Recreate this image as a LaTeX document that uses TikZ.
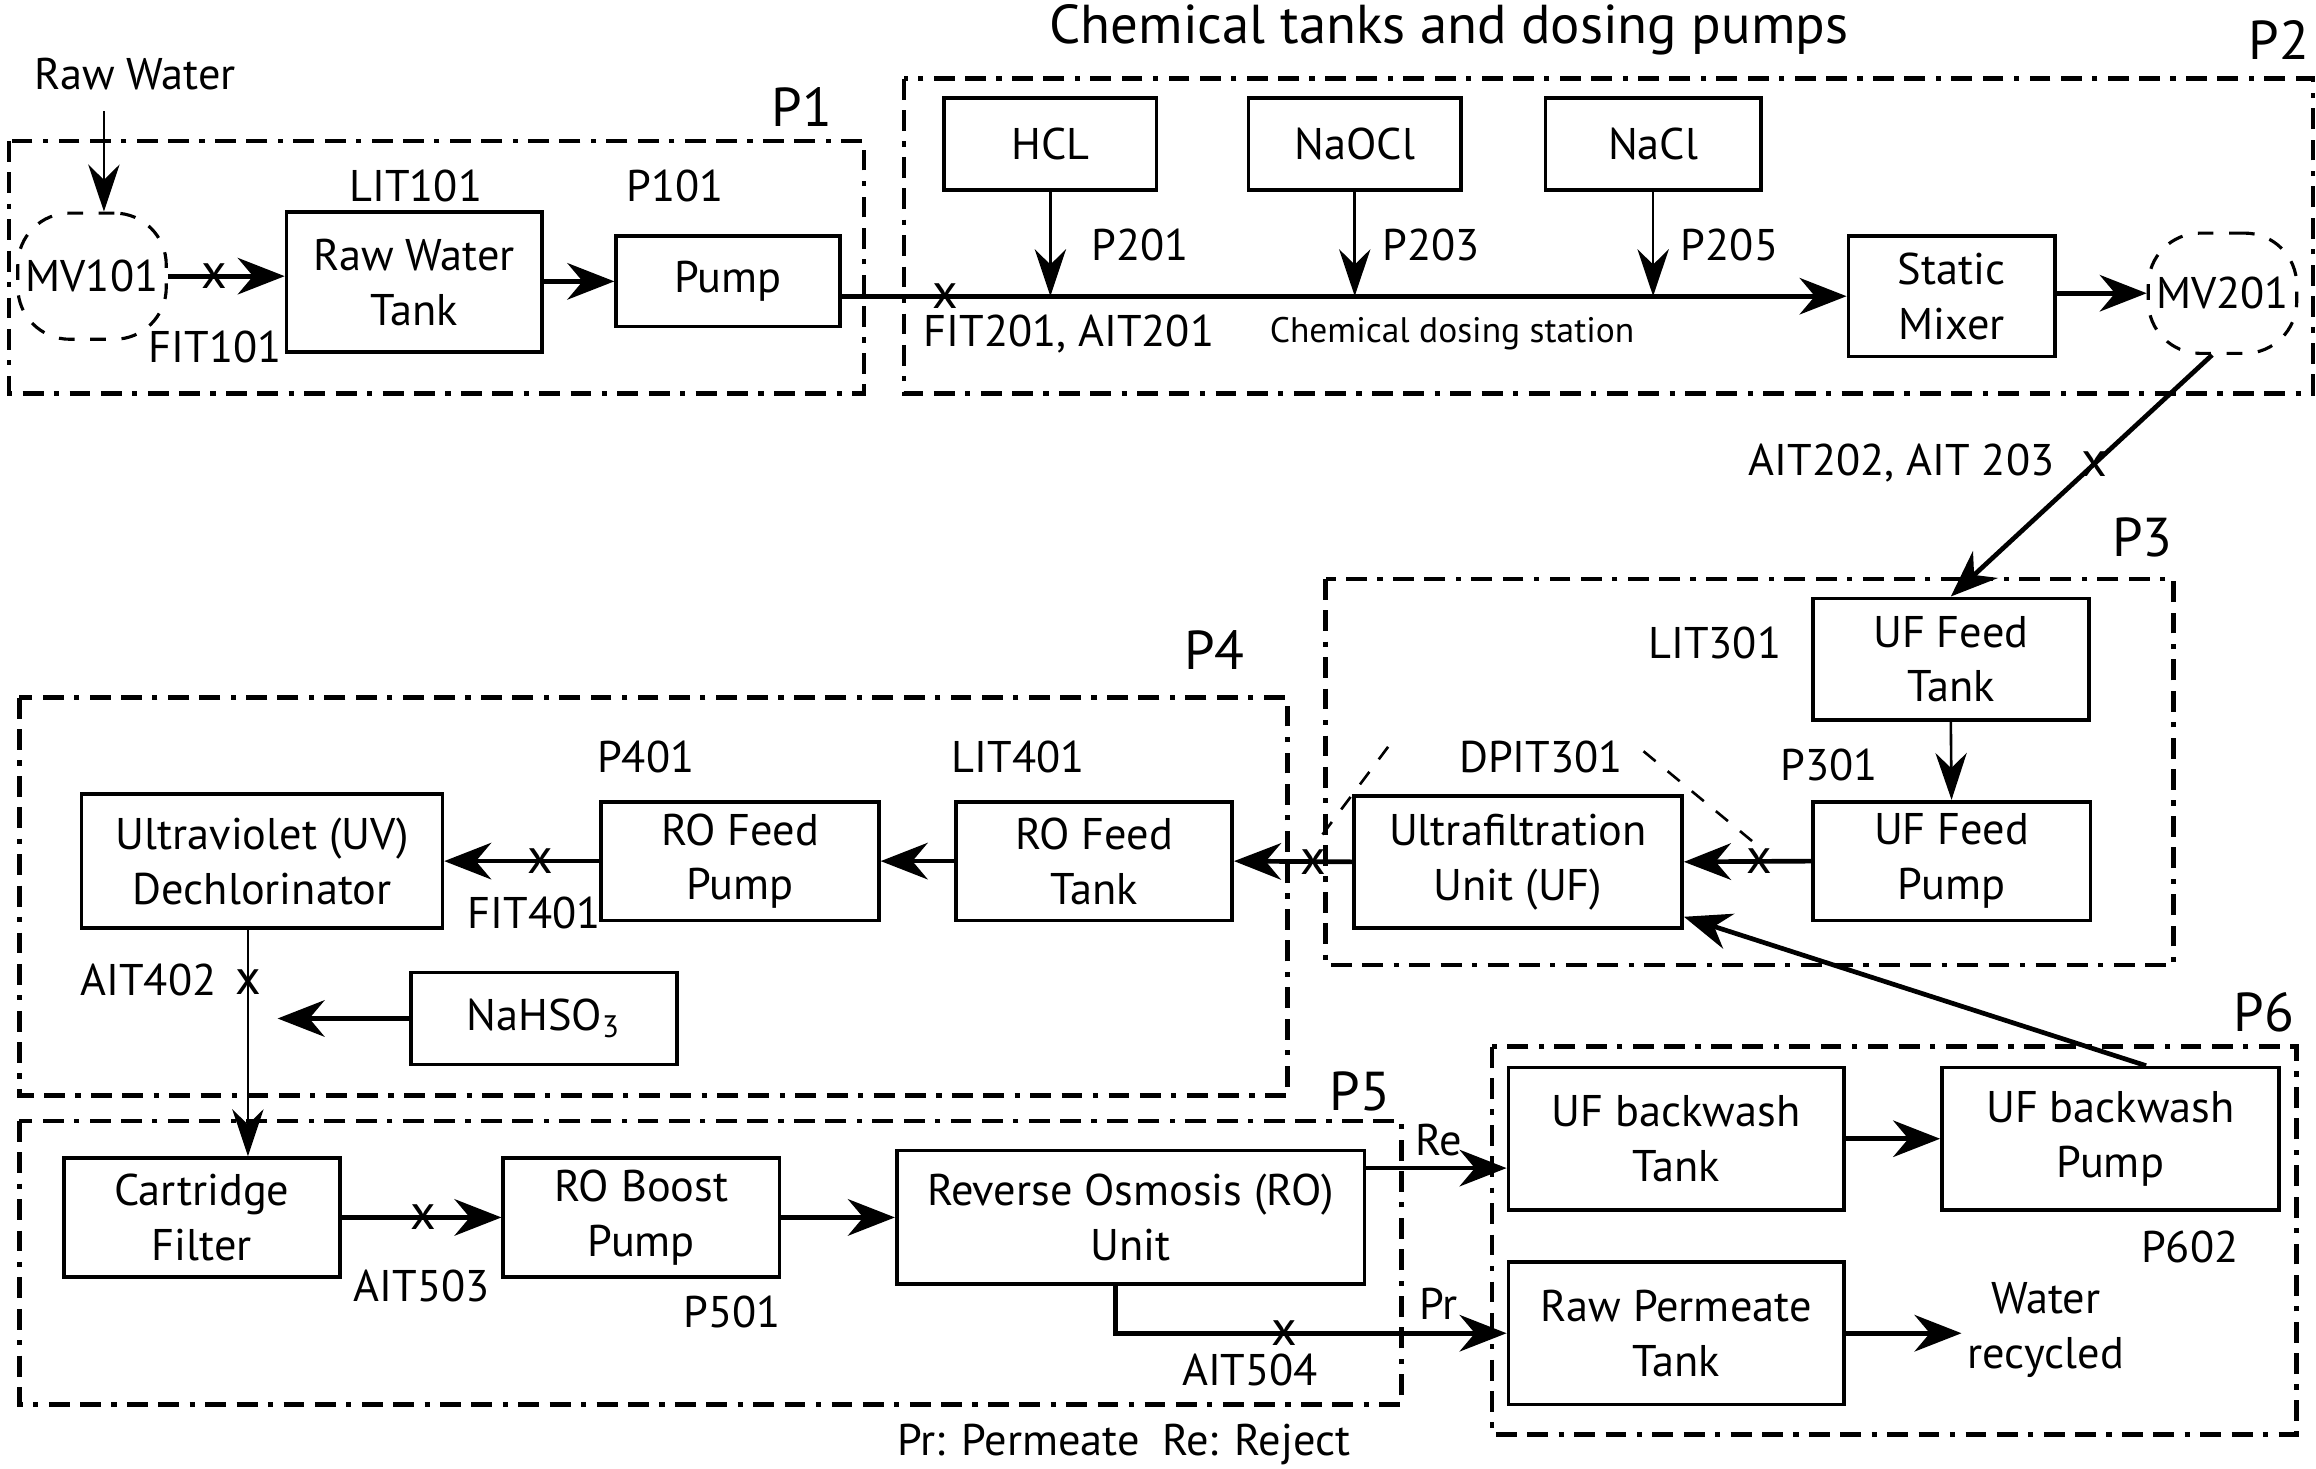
\documentclass[tikz,border=0pt]{standalone}
\usepackage{fontspec}
\setmainfont{PT Sans}
\usetikzlibrary{arrows.meta}

\begin{document}
\begin{tikzpicture}[
    font=\fontsize{8.5}{10.5}\selectfont,
    unit/.style={draw, line width=0.7pt, align=center, inner sep=1pt},
    valve/.style={draw, dashed, line width=0.6pt, rounded corners=0.35cm, inner sep=0pt},
    zone/.style={line width=0.9pt, dash pattern=on 4pt off 2pt on 4pt off 2pt on 1pt off 2pt},
    flow/.style={line width=0.9pt, -{Stealth[length=9pt,width=7pt]}},
    feed/.style={line width=0.5pt, -{Stealth[length=9pt,width=6pt]}},
    xmark/.style={inner sep=0pt, font=\fontsize{9.5}{9.5}\selectfont},
    tag/.style={inner sep=1pt},
    plabel/.style={inner sep=1pt, font=\fontsize{10.5}{12}\selectfont}
]
    \useasboundingbox (0,0) rectangle (15.6,-9.89);

    \draw[zone] (0.06,-0.95) rectangle (5.82,-2.65);
    \draw[zone] (6.09,-0.53) rectangle (15.58,-2.65);
    \draw[zone] (8.93,-3.90) rectangle (14.64,-6.50);
    \draw[zone] (0.13,-4.70) rectangle (8.67,-7.38);
    \draw[zone] (0.13,-7.55) rectangle (9.44,-9.46);
    \draw[zone] (10.05,-7.05) rectangle (15.47,-9.66);

    \node[plabel] (p1) at (5.40,-0.72) {P1};
    \node[plabel] (p2) at (15.35,-0.27) {P2};
    \node[plabel] (p3) at (14.43,-3.62) {P3};
    \node[plabel] (p4) at (8.18,-4.38) {P4};
    \node[plabel] (p5) at (9.16,-7.35) {P5};
    \node[plabel] (p6) at (15.25,-6.82) {P6};
    \node[plabel] (title) at (9.76,-0.20) {Chemical tanks and dosing pumps};

    \node[valve, minimum width=1.0cm, minimum height=0.85cm] (mv1) at (0.62,-1.86) {MV101};
    \node[unit, minimum width=1.72cm, minimum height=0.94cm] (rwt) at (2.79,-1.90) {Raw Water\\Tank};
    \node[unit, minimum width=1.51cm, minimum height=0.61cm] (pump1) at (4.905,-1.895) {Pump};

    \node[unit, minimum width=1.43cm, minimum height=0.62cm] (hcl) at (7.075,-0.97) {HCL};
    \node[unit, minimum width=1.43cm, minimum height=0.62cm] (naocl) at (9.125,-0.97) {NaOCl};
    \node[unit, minimum width=1.45cm, minimum height=0.62cm] (nacl) at (11.135,-0.97) {NaCl};
    \node[unit, minimum width=1.39cm, minimum height=0.81cm] (mixer) at (13.145,-1.995) {Static\\Mixer};
    \node[valve, minimum width=1.0cm, minimum height=0.81cm] (mv2) at (14.97,-1.975) {MV201};

    \node[unit, minimum width=1.86cm, minimum height=0.82cm] (uftank) at (13.14,-4.44) {UF Feed\\Tank};
    \node[unit, minimum width=1.87cm, minimum height=0.80cm] (ufpump) at (13.145,-5.80) {UF Feed\\Pump};
    \node[unit, minimum width=2.21cm, minimum height=0.89cm] (ufunit) at (10.225,-5.805) {Ultrafiltration\\Unit (UF)};

    \node[unit, minimum width=1.86cm, minimum height=0.80cm] (rotank) at (7.37,-5.80) {RO Feed\\Tank};
    \node[unit, minimum width=1.87cm, minimum height=0.80cm] (ropump) at (4.985,-5.80) {RO Feed\\Pump};
    \node[unit, minimum width=2.43cm, minimum height=0.90cm] (uv) at (1.765,-5.80) {Ultraviolet (UV)\\Dechlorinator};
    \node[unit, minimum width=1.79cm, minimum height=0.62cm] (nahso) at (3.665,-6.86) {NaHSO\textsubscript{3}};

    \node[unit, minimum width=1.86cm, minimum height=0.80cm] (cart) at (1.36,-8.20) {Cartridge\\Filter};
    \node[unit, minimum width=1.86cm, minimum height=0.80cm] (boost) at (4.32,-8.20) {RO Boost\\Pump};
    \node[unit, minimum width=3.15cm, minimum height=0.90cm] (ro) at (7.615,-8.20) {Reverse Osmosis (RO)\\Unit};

    \node[unit, minimum width=2.26cm, minimum height=0.96cm] (bwtank) at (11.29,-7.67) {UF backwash\\Tank};
    \node[unit, minimum width=2.27cm, minimum height=0.96cm] (bwpump) at (14.215,-7.67) {UF backwash\\Pump};
    \node[unit, minimum width=2.26cm, minimum height=0.96cm] (permtank) at (11.29,-8.98) {Raw Permeate\\Tank};
    \node[tag, align=center] (recycled) at (13.78,-8.96) {Water\\recycled};

    \node[tag] (rawin) at (0.91,-0.50) {Raw Water};
    \coordinate (inlet) at (0.70,-0.75);
    \node[tag] (lit101) at (2.80,-1.25) {LIT101};
    \node[tag] (p101) at (4.55,-1.25) {P101};
    \node[tag] (fit101) at (1.45,-2.34) {FIT101};
    \node[tag] (fit201) at (7.20,-2.25) {FIT201, AIT201};
    \node[tag] (p201) at (7.68,-1.65) {P201};
    \node[tag] (p203) at (9.64,-1.65) {P203};
    \node[tag] (p205) at (11.65,-1.65) {P205};
    \node[tag, font=\fontsize{6.8}{8}\selectfont] (station) at (9.78,-2.25) {Chemical dosing station};
    \node[tag, anchor=east] (ait202) at (13.88,-3.12) {AIT202, AIT 203};
    \node[tag] (lit301) at (11.55,-4.33) {LIT301};
    \node[tag] (p301) at (12.32,-5.15) {P301};
    \node[tag] (dpit301) at (10.38,-5.10) {DPIT301};
    \node[tag] (p401) at (4.35,-5.10) {P401};
    \node[tag] (lit401) at (6.86,-5.10) {LIT401};
    \node[tag] (fit401) at (3.60,-6.15) {FIT401};
    \node[tag] (ait402) at (1.00,-6.60) {AIT402};
    \node[tag] (ait503) at (2.84,-8.66) {AIT503};
    \node[tag] (p501) at (4.93,-8.84) {P501};
    \node[tag] (ait504) at (8.42,-9.23) {AIT504};
    \node[tag] (re) at (9.69,-7.68) {Re};
    \node[tag] (pr) at (9.69,-8.78) {Pr};
    \node[tag] (p602) at (14.75,-8.40) {P602};
    \node[tag] (legend) at (7.57,-9.73) {Pr: Permeate\enspace Re: Reject};

    \draw[feed] (inlet) -- (inlet |- mv1.north);
    \draw[flow] (mv1.east) -- (mv1.east -| rwt.west) node[xmark, pos=0.4] (x101) {x};
    \draw[flow] (rwt.east |- pump1.west) -- (pump1.west);
    \draw[flow] (pump1.east |- mixer.west) -- (mixer.west) node[xmark, pos=0.103] (x201) {x};
    \draw[feed] (hcl.south) -- (hcl.south |- mixer.west);
    \draw[feed] (naocl.south) -- (naocl.south |- mixer.west);
    \draw[feed] (nacl.south) -- (nacl.south |- mixer.west);
    \draw[flow] (mixer.east |- mv2.west) -- (mv2.west);
    \draw[flow] ([xshift=-0.07cm]mv2.south) -- (uftank.north) node[xmark, pos=0.45] (x202) {x};

    \draw[feed] (uftank.south) -- (ufpump.north);
    \draw[flow] (ufpump.west) -- (ufunit.east) node[xmark, pos=0.41] (x301) {x};
    \draw[flow] (ufunit.west) -- (rotank.east) node[xmark, pos=0.33] (x302) {x};
    \coordinate (dpl) at (9.35,-5.03);
    \coordinate (dpr) at (11.07,-5.06);
    \draw[dashed, line width=0.5pt] (dpl) -- (x302.north);
    \draw[dashed, line width=0.5pt] (dpr) -- (x301.north);
    \draw[flow] (rotank.west) -- (ropump.east);
    \draw[flow] (ropump.west) -- (uv.east) node[xmark, pos=0.38] (x401) {x};
    \coordinate (uvout) at ([xshift=-0.095cm]uv.south);
    \draw[feed] (uvout) -- (uvout |- cart.north) node[xmark, pos=0.23] (x402) {x};
    \coordinate (dose) at (1.87,-6.86);
    \draw[flow] (nahso.west) -- (dose);

    \draw[flow] (cart.east) -- (boost.west) node[xmark, pos=0.51] (x503) {x};
    \draw[flow] (boost.east) -- (ro.west);
    \draw[flow] ([yshift=-0.13cm]ro.north east) -- ([yshift=-0.13cm]ro.north east -| bwtank.west);
    \draw[flow] ([xshift=-0.1cm]ro.south) |- (permtank.west) node[xmark, pos=0.716] (x504) {x};

    \draw[flow] (bwtank.east) -- (bwpump.west);
    \draw[flow] ([xshift=0.24cm]bwpump.north) -- ([yshift=-0.37cm]ufunit.east);
    \draw[flow] (permtank.east) -- (permtank.east -| recycled.west);
\end{tikzpicture}
\end{document}
